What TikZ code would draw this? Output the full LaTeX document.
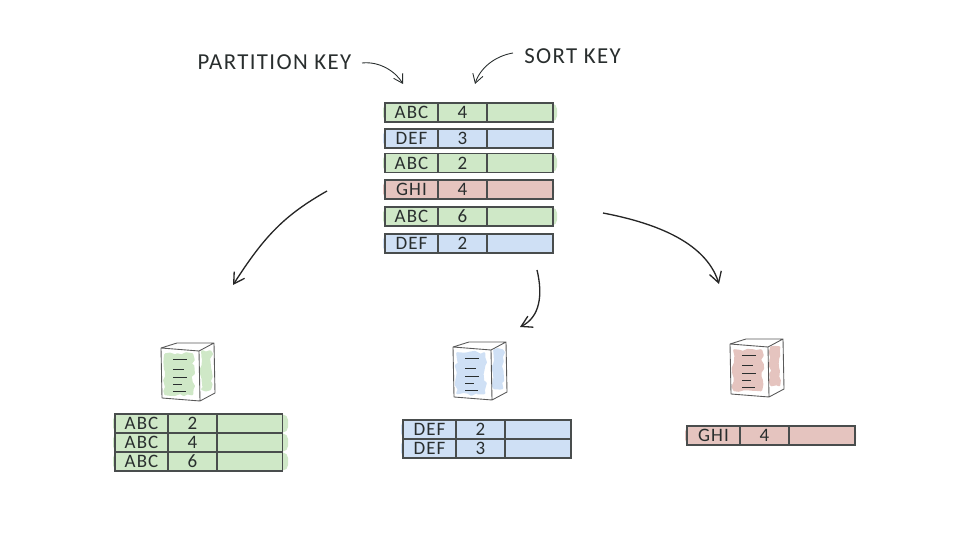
\documentclass[tikz,border=0pt]{standalone}
\usepackage{fontspec}
\usepackage{tikz}
\setmainfont[LetterSpace=6]{Carlito}
\usetikzlibrary{arrows.meta}
\usetikzlibrary{decorations.pathmorphing}
\usetikzlibrary{positioning}
\definecolor{mgreen}{rgb}{0.81, 0.91, 0.78}
\definecolor{mblue}{rgb}{0.81, 0.88, 0.96}
\definecolor{mred}{rgb}{0.90, 0.77, 0.75}
\definecolor{mink}{rgb}{0.16, 0.18, 0.18}
\tikzset{keytext/.style = {font = \fontsize{13}{15}\selectfont, text = mink, inner sep = 0}}
\tikzset{cell/.style = {draw = mink!85, line width = 0.6pt, minimum height = 0.38cm, inner sep = 0, outer sep = 0,
    font = \fontsize{10.8}{12}\selectfont, text = mink}}
\tikzset{bigarrow/.style = {black!85, line width = 0.75pt, -{Straight Barb[length = 6pt, width = 7pt]}}}
\tikzset{keyarrow/.style = {mink, line width = 0.5pt, -{Straight Barb[length = 5pt, width = 6pt]}}}
\tikzset{blob/.style = {line width = 1.5pt, line join = round, decorate, decoration = {random steps, segment length = 2.5pt, amplitude = 1pt}}}
\tikzset{pics/server/.style = {code = {
    \draw [#1, fill = #1, blob] (4.5, 6.5) rectangle (31, 46);
    \draw [#1, fill = #1, blob] (41.5, 3.5) rectangle (49, 41);
    \draw [black!65, line width = 0.5pt, line join = round]
        (0, 0) -- (16, -5) -- (53, -5) -- (38, 3) -- cycle
        (0, 0) -- (1, 50) -- (39, 53) -- (38, 3)
        (39, 53) -- (54, 45) -- (53, -5);
    \draw [mink, line width = 0.5pt] (12, 11) -- (26, 11);
    \draw [mink, line width = 0.5pt] (12, 21) -- (23, 21);
    \draw [mink, line width = 0.5pt] (12, 29) -- (26, 29);
    \draw [mink, line width = 0.5pt] (12, 36) -- (21, 36);
    \draw [mink, line width = 0.5pt] (12, 43) -- (25, 43);
}}}
% name, left x, middle y, colour, key, sort value, overhang
\newcommand{\keyrow}[7]{
    \fill [#4, rounded corners = 3pt] (#2 - 2, #3 - 9) rectangle (#2 + 168 + #7, #3 + 9);
    \node [cell, fill = #4, anchor = west, minimum width = 1.06cm] (#1key) at (#2, #3) {#5};
    \node [cell, fill = #4, right = 0pt of #1key, minimum width = 0.98cm] (#1sort) {#6};
    \node [cell, fill = #4, right = 0pt of #1sort, minimum width = 1.32cm] (#1rest) {};
}

\begin{document}
\begin{tikzpicture}[x = 0.02cm, y = -0.02cm]
    \useasboundingbox (0, 0) rectangle (960, 540);

    \node [keytext] (partition) at (274.5, 62) {PARTITION KEY};
    \node [keytext] (sortlabel) at (572.5, 56) {SORT KEY};

    \keyrow{a}{385}{112.5}{mgreen}{ABC}{4}{4}
    \keyrow{b}{385}{138.5}{mblue}{DEF}{3}{0}
    \keyrow{c}{385}{163}{mgreen}{ABC}{2}{4}
    \keyrow{d}{385}{189.5}{mred}{GHI}{4}{1}
    \keyrow{e}{385}{216.5}{mgreen}{ABC}{6}{4}
    \keyrow{f}{385}{243.5}{mblue}{DEF}{2}{0}

    \keyrow{g}{115}{423.5}{mgreen}{ABC}{2}{5}
    \keyrow{h}{115}{442.5}{mgreen}{ABC}{4}{5}
    \keyrow{i}{115}{461.5}{mgreen}{ABC}{6}{5}

    \keyrow{j}{403}{429.5}{mblue}{DEF}{2}{0}
    \keyrow{k}{403}{448.5}{mblue}{DEF}{3}{0}

    \keyrow{l}{687}{435.5}{mred}{GHI}{4}{1}

    \pic at (161, 348) {server = mgreen};
    \pic at (453, 347) {server = mblue};
    \pic at (730, 344) {server = mred};

    \coordinate (partstart) at (362, 63);
    \coordinate (partend) at (403, 84);
    \coordinate (sortstart) at (513, 53);
    \coordinate (sortend) at (475, 84);
    \coordinate (leftstart) at (327, 191);
    \coordinate (leftend) at (233, 285);
    \coordinate (midstart) at (537, 270);
    \coordinate (midend) at (520, 327);
    \coordinate (rightstart) at (603, 213);
    \coordinate (rightend) at (719, 284);

    \draw [keyarrow] (partstart) .. controls (380, 61) and (396, 72) .. (partend);
    \draw [keyarrow] (sortstart) .. controls (495, 56) and (480, 68) .. (sortend);
    \draw [bigarrow] (leftstart) .. controls (285, 215) and (265, 235) .. (leftend);
    \draw [bigarrow] (midstart) .. controls (543, 295) and (540, 317) .. (midend);
    \draw [bigarrow] (rightstart) .. controls (650, 222) and (705, 240) .. (rightend);
\end{tikzpicture}
\end{document}
